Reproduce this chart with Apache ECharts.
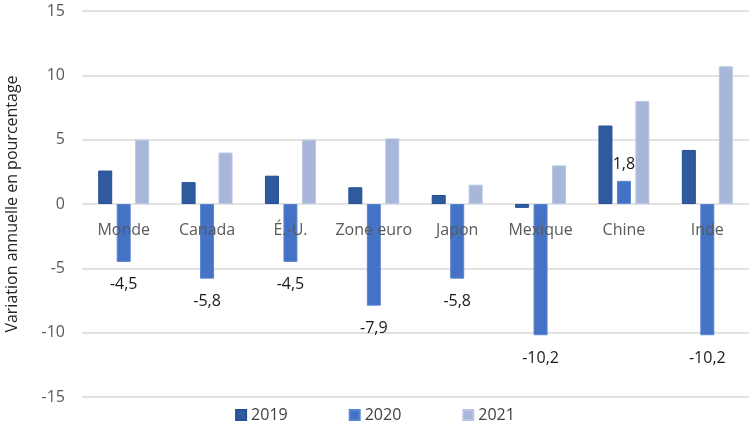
<!DOCTYPE html>
<html><head><meta charset="utf-8">
<script src="https://cdn.jsdelivr.net/npm/echarts@6/dist/echarts.min.js"></script>
<style>html,body{margin:0;padding:0;background:#fff}#c{width:750px;height:422px}</style>
</head><body><div id="c"></div>
<script>
const categories = ['Monde','Canada','É.-U.','Zone euro','Japon','Mexique','Chine','Inde'];
const v2019 = [2.6, 1.7, 2.2, 1.3, 0.7, -0.3, 6.1, 4.2];
const v2020 = [-4.5, -5.8, -4.5, -7.9, -5.8, -10.2, 1.8, -10.2];
const v2021 = [5.0, 4.0, 5.0, 5.1, 1.5, 3.0, 8.0, 10.7];
const yTicks = {min: -15, max: 15, interval: 5};

const FONT = '"Open Sans", sans-serif';
const GRID_TOP = 11, GRID_BOTTOM = 25, H = 422;
const plotH = H - GRID_TOP - GRID_BOTTOM;
const zeroOffset = -plotH * (0 - yTicks.min) / (yTicks.max - yTicks.min);
const chart = echarts.init(document.getElementById('c'));
const fmt = v => String(v).replace('.', ',');
chart.setOption({
  animation: false,
  textStyle: {fontFamily: FONT},
  grid: {left: 82, right: 1, top: GRID_TOP, bottom: GRID_BOTTOM, containLabel: false, outerBoundsMode: 'none'},
  legend: {
    top: 402, left: 'center', itemWidth: 10, itemHeight: 10, itemGap: 61,
    icon: 'rect',
    textStyle: {fontFamily: FONT, fontSize: 16, color: '#404040'},
    data: ['2019','2020','2021']
  },
  xAxis: {
    type: 'category', data: categories, position: 'bottom', offset: zeroOffset, z: 10,
    axisLine: {show: false, onZero: false},
    axisTick: {show: false},
    axisLabel: {color: '#595959', fontSize: 16, margin: 18, interval: 0, fontFamily: FONT}
  },
  yAxis: {
    type: 'value', min: yTicks.min, max: yTicks.max, interval: yTicks.interval,
    name: 'Variation annuelle en pourcentage', nameLocation: 'middle', nameGap: 62,
    nameTextStyle: {color: '#262626', fontSize: 16, fontFamily: FONT},
    axisLine: {show: false}, axisTick: {show: false},
    axisLabel: {color: '#595959', fontSize: 16, margin: 17, fontFamily: FONT},
    splitLine: {lineStyle: {color: '#D9D9D9', width: 1.5}}
  },
  series: [
    {name: '2019', type: 'bar', data: v2019, barWidth: 14, barGap: '32%',
     itemStyle: {color: '#2F5A9E', borderColor: '#22509A', borderWidth: 1}},
    {name: '2020', type: 'bar', data: v2020.map(v => ({
        value: v,
        label: {position: v < 0 ? 'bottom' : 'top', distance: v < 0 ? 15 : 8}
      })), barWidth: 14, barGap: '32%',
     itemStyle: {color: '#4472C4', borderColor: '#5A86D0', borderWidth: 1},
     label: {show: true, color: '#1a1a1a', fontSize: 16, fontFamily: FONT,
       formatter: p => fmt(p.value)}},
    {name: '2021', type: 'bar', data: v2021, barWidth: 14, barGap: '32%',
     itemStyle: {color: '#A8B6DA', borderColor: '#BAC6E3', borderWidth: 1}}
  ]
});
</script></body></html>
